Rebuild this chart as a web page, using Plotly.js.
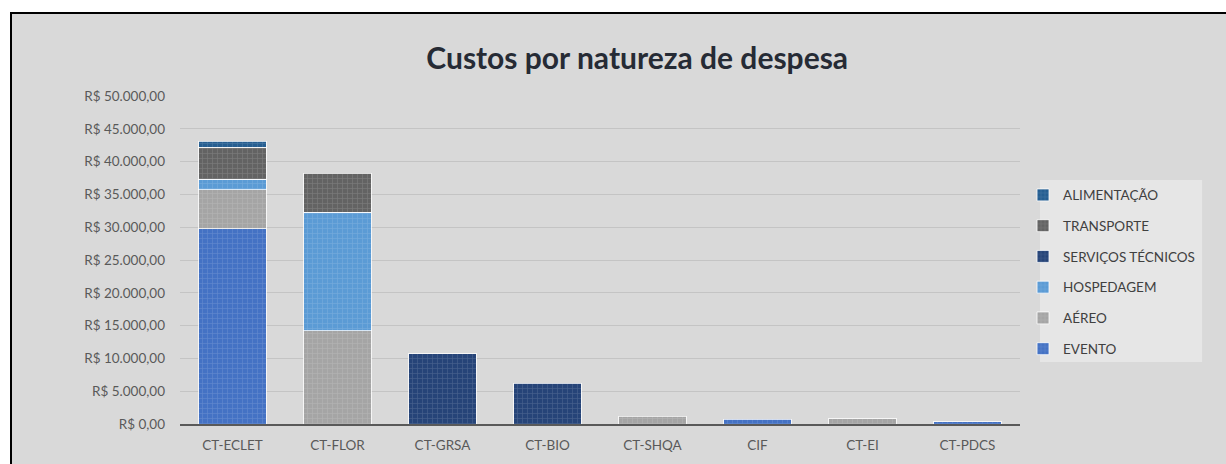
<!DOCTYPE html>
<html><head><meta charset="utf-8">
<script src="https://cdn.plot.ly/plotly-3.0.1.min.js"></script>
<style>
html,body{margin:0;padding:0;background:#fff;overflow:hidden;}
#chart{position:absolute;left:10px;top:12px;width:1214px;height:470px;border:2px solid #000;}
</style></head>
<body><div id="chart"></div>
<script>
const categories = ['CT-ECLET','CT-FLOR','CT-GRSA','CT-BIO','CT-SHQA','CIF','CT-EI','CT-PDCS'];
const evento      = [29800, null, null, null, null, 750, null, 350];
const aereo       = [5900, 14200, null, null, 1200, null, 800, null];
const hospedagem  = [1600, 18100, null, null, null, null, null, null];
const servicos    = [null, null, 10700, 6200, null, null, null, null];
const transporte  = [4900, 5900, null, null, null, null, null, null];
const alimentacao = [900, null, null, null, null, null, null, null];
const tickVals = [0,5000,10000,15000,20000,25000,30000,35000,40000,45000,50000];
const tickText = ['R$ 0,00','R$ 5.000,00','R$ 10.000,00','R$ 15.000,00','R$ 20.000,00','R$ 25.000,00','R$ 30.000,00','R$ 35.000,00','R$ 40.000,00','R$ 45.000,00','R$ 50.000,00'];

const series = [
  ['EVENTO', evento, '#4472C4'],
  ['AÉREO', aereo, '#A5A5A5'],
  ['HOSPEDAGEM', hospedagem, '#5B9BD5'],
  ['SERVIÇOS TÉCNICOS', servicos, '#264478'],
  ['TRANSPORTE', transporte, '#636363'],
  ['ALIMENTAÇÃO', alimentacao, '#255E91']
];
const data = series.map((s,i) => ({
  type:'bar', name:s[0], x:categories, y:s[1], legendgroup:'g'+i, legendrank: 100 - i,
  marker:{color:s[2], line:{color:'rgba(255,255,255,0.75)', width:1},
    pattern:{shape:'+', size:5, solidity:0.25, fillmode:'overlay', fgcolor:'#ffffff', fgopacity:0.15}},
  hoverinfo:'x+y+name'
}));
const layout = {
  width:1214, height:470,
  paper_bgcolor:'#d9d9d9', plot_bgcolor:'#d9d9d9',
  barmode:'stack', bargap:0.36,
  margin:{l:168, r:206, t:82, b:60},
  font:{family:'Lato, "Open Sans", sans-serif', color:'#595959', size:13},
  title:{text:'<b>Custos por natureza de despesa</b>', x:0.515, xanchor:'center', y:0.905, yanchor:'middle',
    font:{family:'Lato, "Open Sans", sans-serif', size:30, color:'#262b35'}},
  xaxis:{showgrid:false, ticks:'', showline:true, linecolor:'#595959', linewidth:2, ticklabelstandoff:8,
    tickfont:{size:13.5, color:'#595959'}, fixedrange:true},
  yaxis:{range:[0,50000], tickvals:tickVals, ticktext:tickText, showgrid:true, gridcolor:'#c4c4c4', gridwidth:1,
    zeroline:false, ticks:'', ticklen:0, ticklabelstandoff:14, tickfont:{size:13.5, color:'#595959'}, fixedrange:true},
  shapes:[{type:'rect', xref:'paper', yref:'paper', x0:1.0238, x1:1.2167, y0:0.189, y1:0.744,
    fillcolor:'#e6e6e6', line:{width:0}, layer:'below'}],
  showlegend:true,
  legend:{traceorder:'grouped', tracegroupgap:10.2, x:1.0036, xanchor:'left', y:0.745, yanchor:'top',
    bgcolor:'rgba(0,0,0,0)', font:{size:13.5, color:'#404040'}, itemwidth:30}
};
Plotly.newPlot('chart', data, layout, {displayModeBar:false});
</script></body></html>
